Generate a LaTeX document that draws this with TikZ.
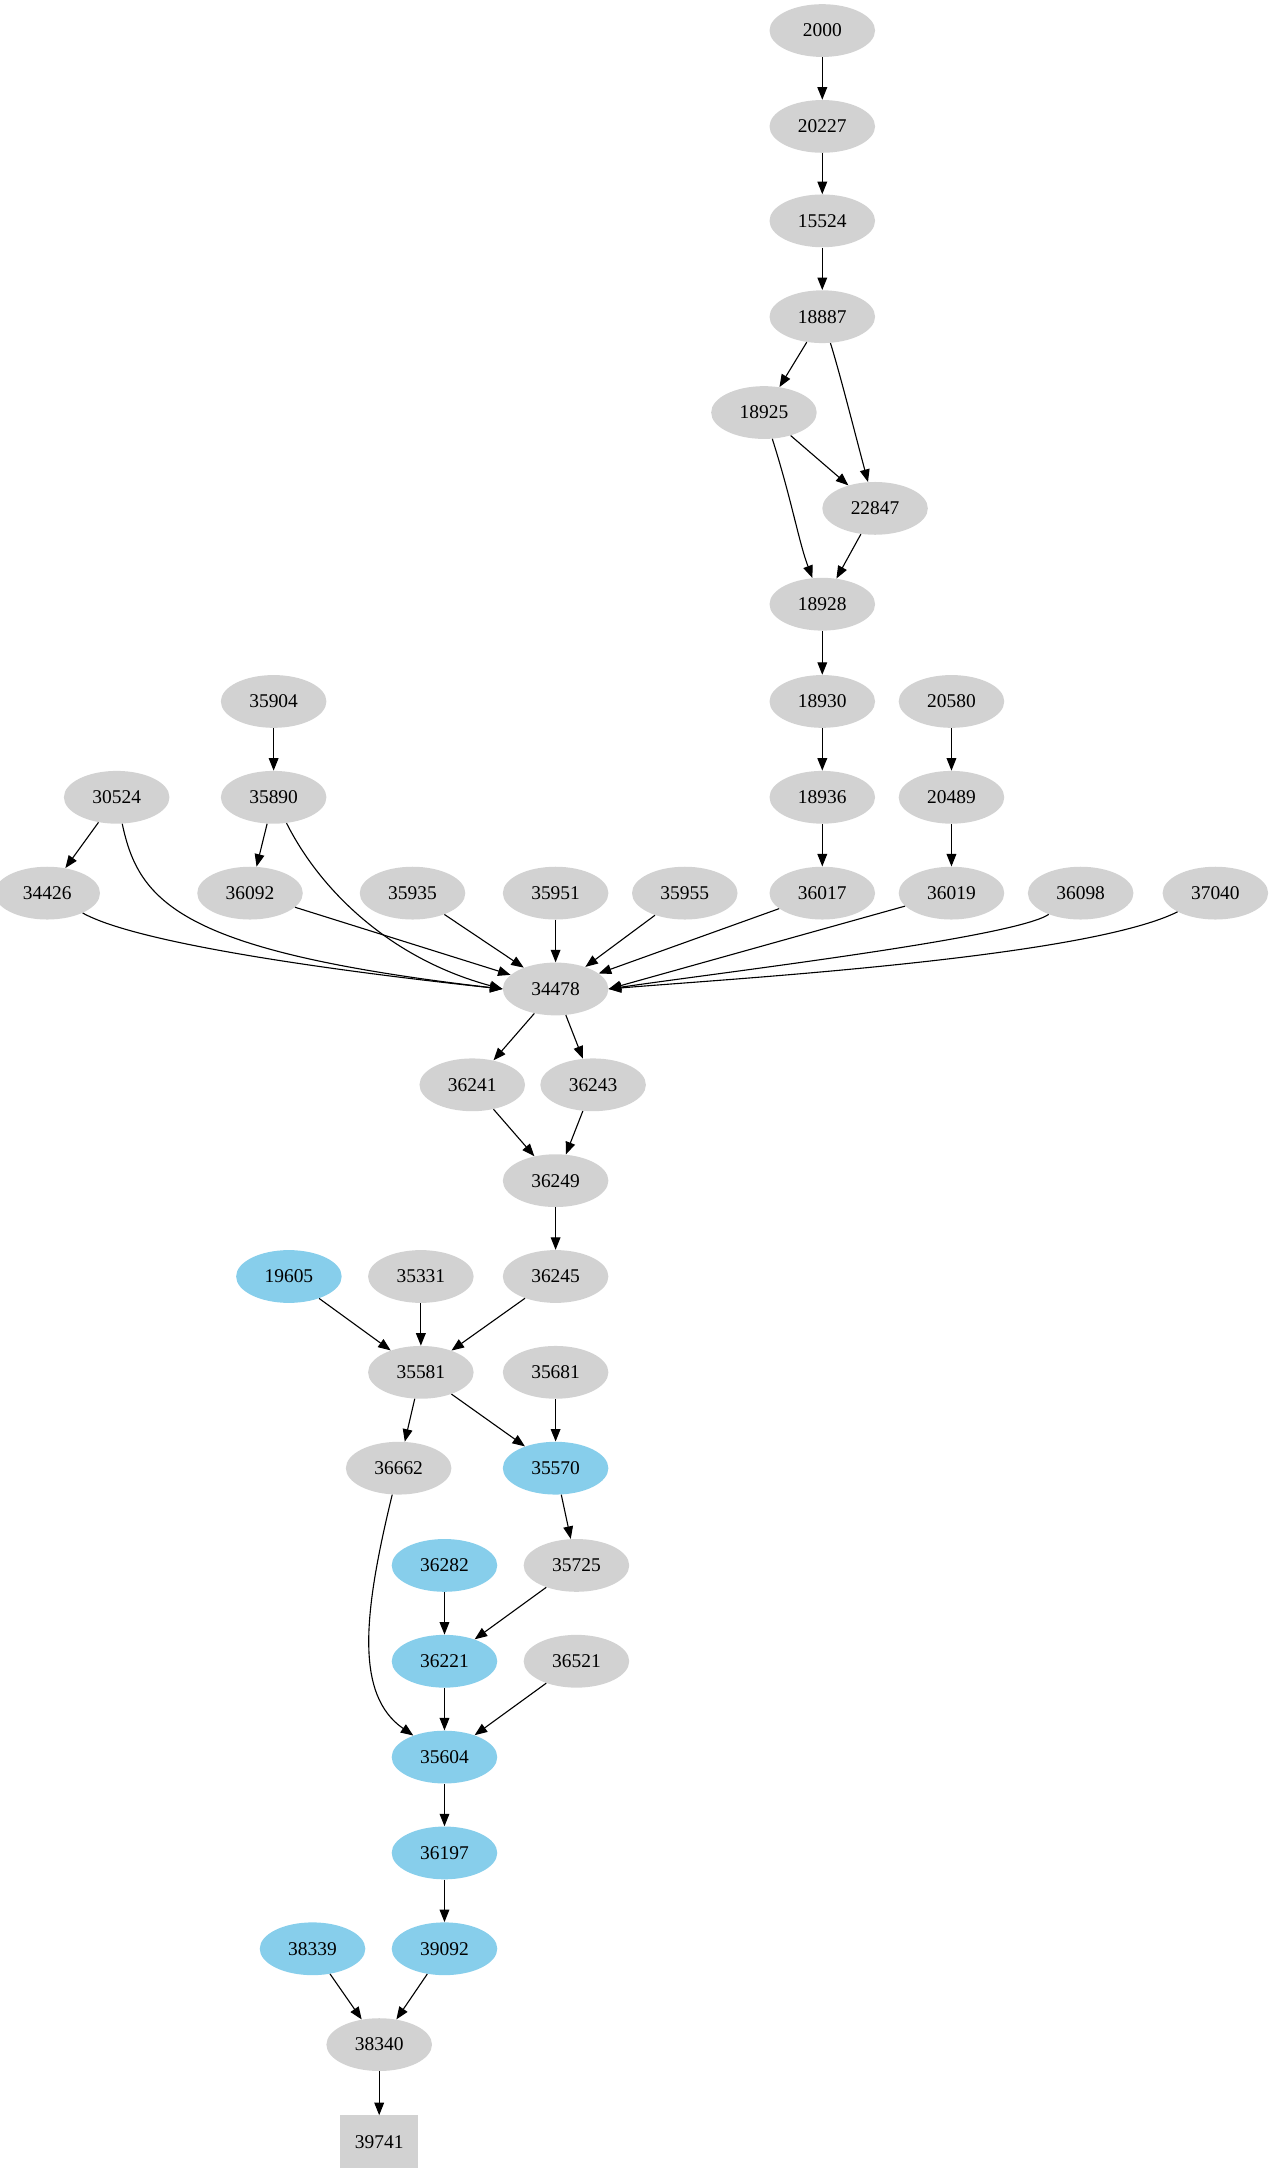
\documentclass[tikz,border=0pt]{standalone}
\usepackage{fontspec}
\setmainfont{Liberation Serif}
\usetikzlibrary{arrows.meta,shapes.geometric}
\begin{document}
\begin{tikzpicture}[x=1pt,y=-1pt,
  g/.style={ellipse,fill=gray!35,minimum width=76pt,minimum height=38pt,inner sep=0pt,font=\fontsize{14}{16}\selectfont},
  b/.style={g,fill={rgb,255:red,135;green,206;blue,235}},
  bx/.style={rectangle,fill=gray!35,minimum width=56pt,minimum height=38pt,font=\fontsize{14}{16}\selectfont},
  e/.style={-{Triangle[length=9pt,width=7pt]},line width=0.8pt}]
\useasboundingbox (0,0) rectangle (917,1563);
\node[g] (n2000) at (592,22) {2000};
\node[g] (n20227) at (592,91) {20227};
\node[g] (n15524) at (592,159) {15524};
\node[g] (n18887) at (592,228) {18887};
\node[g] (n18925) at (550,297) {18925};
\node[g] (n22847) at (630,366) {22847};
\node[g] (n18928) at (592,435) {18928};
\node[g] (n18930) at (592,505) {18930};
\node[g] (n20580) at (685,505) {20580};
\node[g] (n18936) at (592,574) {18936};
\node[g] (n20489) at (685,574) {20489};
\node[g] (n35904) at (197,505) {35904};
\node[g] (n35890) at (197,574) {35890};
\node[g] (n30524) at (84,574) {30524};
\node[g] (n34426) at (34,643) {34426};
\node[g] (n36092) at (180,643) {36092};
\node[g] (n35935) at (297,643) {35935};
\node[g] (n35951) at (400,643) {35951};
\node[g] (n35955) at (493,643) {35955};
\node[g] (n36017) at (592,643) {36017};
\node[g] (n36019) at (685,643) {36019};
\node[g] (n36098) at (778,643) {36098};
\node[g] (n37040) at (875,643) {37040};
\node[g] (n34478) at (400,712) {34478};
\node[g] (n36241) at (340,781) {36241};
\node[g] (n36243) at (427,781) {36243};
\node[g] (n36249) at (400,850) {36249};
\node[b] (n19605) at (208,919) {19605};
\node[g] (n35331) at (303,919) {35331};
\node[g] (n36245) at (400,919) {36245};
\node[g] (n35581) at (303,988) {35581};
\node[g] (n35681) at (400,988) {35681};
\node[g] (n36662) at (287,1057) {36662};
\node[b] (n35570) at (400,1057) {35570};
\node[b] (n36282) at (320,1127) {36282};
\node[g] (n35725) at (415,1127) {35725};
\node[b] (n36221) at (320,1196) {36221};
\node[g] (n36521) at (415,1196) {36521};
\node[b] (n35604) at (320,1265) {35604};
\node[b] (n36197) at (320,1334) {36197};
\node[b] (n38339) at (225,1403) {38339};
\node[b] (n39092) at (320,1403) {39092};
\node[g] (n38340) at (273,1472) {38340};
\node[bx] (n39741) at (273,1542) {39741};
\draw[e] (n2000)--(n20227);
\draw[e] (n20227)--(n15524);
\draw[e] (n15524)--(n18887);
\draw[e] (n18887)--(n18925);
\draw[e] (n18887) .. controls (605,270) and (615,310) .. (n22847);
\draw[e] (n18925)--(n22847);
\draw[e] (n18925) .. controls (570,360) and (575,390) .. (n18928);
\draw[e] (n22847)--(n18928);
\draw[e] (n18928)--(n18930);
\draw[e] (n18930)--(n18936);
\draw[e] (n20580)--(n20489);
\draw[e] (n18936)--(n36017);
\draw[e] (n20489)--(n36019);
\draw[e] (n35904)--(n35890);
\draw[e] (n35890)--(n36092);
\draw[e] (n30524)--(n34426);
\draw[e] (n30524) .. controls (100,650) and (130,685) .. (n34478.west);
\draw[e] (n35890) .. controls (230,640) and (280,690) .. (n34478.west);
\draw[e] (n34426) .. controls (100,680) and (250,700) .. (n34478.west);
\draw[e] (n36092)--(n34478);
\draw[e] (n35935)--(n34478);
\draw[e] (n35951)--(n34478);
\draw[e] (n35955)--(n34478);
\draw[e] (n36017)--(n34478);
\draw[e] (n36019)--(n34478.east);
\draw[e] (n36098) .. controls (730,675) and (520,700) .. (n34478.east);
\draw[e] (n37040) .. controls (780,690) and (520,705) .. (n34478.east);
\draw[e] (n34478)--(n36241);
\draw[e] (n34478)--(n36243);
\draw[e] (n36241)--(n36249);
\draw[e] (n36243)--(n36249);
\draw[e] (n36249)--(n36245);
\draw[e] (n19605)--(n35581);
\draw[e] (n35331)--(n35581);
\draw[e] (n36245)--(n35581);
\draw[e] (n35581)--(n36662);
\draw[e] (n35581)--(n35570);
\draw[e] (n35681)--(n35570);
\draw[e] (n35570)--(n35725);
\draw[e] (n36282)--(n36221);
\draw[e] (n35725)--(n36221);
\draw[e] (n36221)--(n35604);
\draw[e] (n36521)--(n35604);
\draw[e] (n36662) .. controls (262,1160) and (255,1220) .. (n35604);
\draw[e] (n35604)--(n36197);
\draw[e] (n36197)--(n39092);
\draw[e] (n38339)--(n38340);
\draw[e] (n39092)--(n38340);
\draw[e] (n38340)--(n39741);
\end{tikzpicture}
\end{document}
